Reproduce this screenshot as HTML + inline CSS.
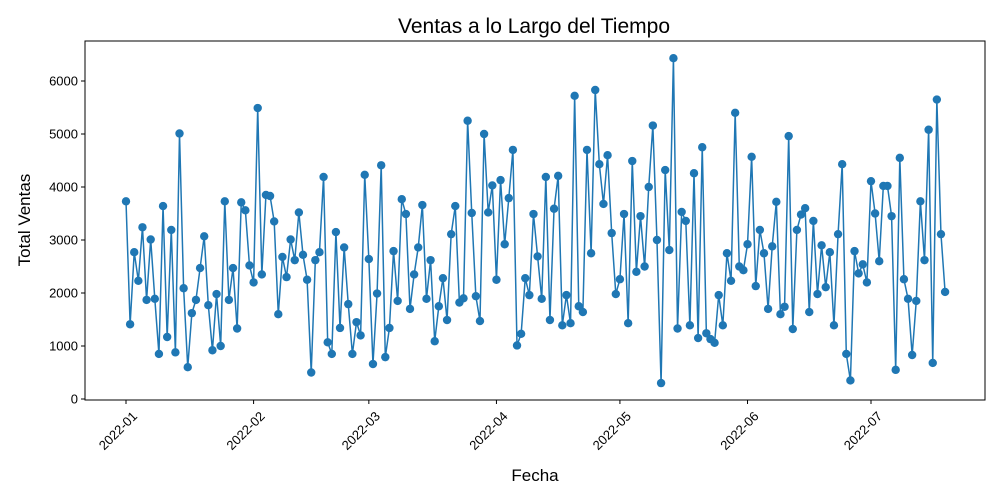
<!DOCTYPE html>
<html><head><meta charset="utf-8"><style>
html,body{margin:0;padding:0;background:#fff;}
svg{display:block;font-family:"Liberation Sans","DejaVu Sans",sans-serif;}
</style></head><body>
<svg id="chart" width="1000" height="500" viewBox="0 0 1000 500">
<rect x="0" y="0" width="1000" height="500" fill="#fff"/>
<text x="534" y="33" font-size="21" text-anchor="middle">Ventas a lo Largo del Tiempo</text>
<text x="535" y="481" font-size="17" text-anchor="middle">Fecha</text>
<text transform="translate(30,220) rotate(-90)" font-size="17" text-anchor="middle">Total Ventas</text>
<g id="plot"></g>
</svg>
<script>
const startDate = "2022-01-01";
const sales = [
3730,1410,2770,2230,3240,1870,3010,1890,850,3640,1170,3190,880,5010,2090,600,1620,1870,2470,3070,1770,920,1980,1000,3730,1870,2470,1330,3710,3560,2520,2200,5490,2350,3850,3830,3350,1600,2680,
2300,3010,2620,3520,2720,2250,500,2620,2770,4190,1070,850,3150,1340,2860,1790,850,1450,1200,4230,2640,660,1990,4410,790,1340,2790,1850,3770,3490,1700,2350,2860,3660,1890,2620,1090,1750,2280,1490,3110,
3640,1820,1900,5250,3510,1940,1470,5000,3520,4030,2250,4130,2920,3790,4700,1010,1230,2280,1960,3490,2690,1890,4190,1490,3590,4210,1390,1960,1430,5720,1750,1640,4700,2750,5830,4430,3680,4600,3130,1980,
2260,3490,1430,4490,2400,3450,2500,4000,5160,3000,300,4320,2810,6430,1330,3530,3360,1390,4260,1150,4750,1240,1130,1060,1960,1390,2750,2230,5400,2500,2430,2920,4570,2130,3190,2750,1700,2880,3720,1600,
1740,4960,1320,3190,3480,3600,1640,3360,1980,2900,2110,2770,1390,3110,4430,850,350,2790,2370,2540,2200,4110,3500,2600,4020,4020,3450,550,4550,2260,1890,830,1850,3730,2620,5080,680,5650,3110,2020
];
const yTicks = [0,1000,2000,3000,4000,5000,6000];
const xTickLabels = ["2022-01","2022-02","2022-03","2022-04","2022-05","2022-06","2022-07"];
const xTickDays = [0,31,59,90,120,151,181];

const NS = "http://www.w3.org/2000/svg";
const L = 85, R = 985, T = 41, B = 400;
function xs(d){ return 126 + d * 4.116; }
function ys(v){ return 399 - v * 0.053; }
const g = document.getElementById('plot');
function mk(tag, attrs){ const e = document.createElementNS(NS, tag); for (const k in attrs) e.setAttribute(k, attrs[k]); return e; }

const frame = mk('rect', {x:L, y:T, width:R-L, height:B-T, fill:'none', stroke:'#000', 'stroke-width':1});


g.appendChild(frame);

yTicks.forEach(v => {
  const y = ys(v);
  const t = mk('line', {x1:L-4, x2:L, y1:y, y2:y, stroke:'#000'});
  
  
  g.appendChild(t);
  const tx = mk('text', {x:L-7, y:y+4.5, 'font-size':13, 'text-anchor':'end'});
  tx.textContent = v;
  
  
  g.appendChild(tx);
});

xTickDays.forEach((d, i) => {
  const x = xs(d);
  const t = mk('line', {x1:x, x2:x, y1:B, y2:B+4, stroke:'#000'});
  
  
  g.appendChild(t);
  const ax = x + 12, ay = B + 17;
  const tx = mk('text', {x:ax, y:ay, 'font-size':13, 'text-anchor':'end', transform:`rotate(-45 ${ax} ${ay})`});
  tx.textContent = xTickLabels[i];
  
  
  g.appendChild(tx);
});

const pts = sales.map((v, i) => xs(i).toFixed(2) + ',' + ys(v).toFixed(2)).join(' ');
const line = mk('polyline', {points:pts, fill:'none', stroke:'#1f77b4', 'stroke-width':1.5, 'stroke-linejoin':'round'});


g.appendChild(line);

sales.forEach((v, i) => {
  const c = mk('circle', {cx:xs(i), cy:ys(v), r:4.2, fill:'#1f77b4'});
  
  
  g.appendChild(c);
});
</script>
</body></html>
